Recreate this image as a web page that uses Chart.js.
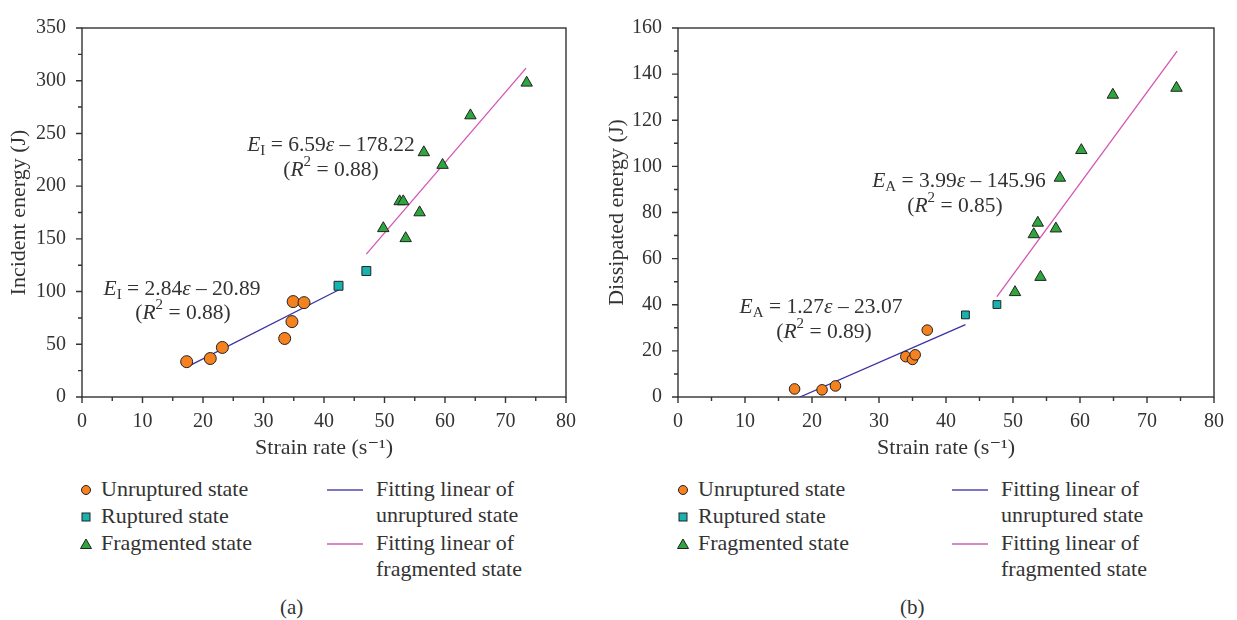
<!DOCTYPE html>
<html>
<head>
<meta charset="utf-8">
<script src="https://cdn.jsdelivr.net/npm/chart.js@4.4.0/dist/chart.umd.min.js"></script>
<style>
  body { margin: 0; background: #fff; width: 1237px; height: 620px; overflow: hidden; position: relative;
         font-family: "Liberation Serif", "DejaVu Serif", serif; color: #333; }
  .box { position: absolute; top: 0; height: 470px; }
  #boxA { left: 0; width: 600px; }
  #boxB { left: 600px; width: 637px; }
  .lg { position: absolute; font-size: 22px; line-height: 26px; white-space: nowrap; }
  .mk { position: absolute; }
  .ln { position: absolute; height: 2px; width: 36px; }
  .cap { position: absolute; font-size: 21px; top: 595px; }
</style>
</head>
<body>
<div class="box" id="boxA"><canvas id="chartA"></canvas></div>
<div class="box" id="boxB"><canvas id="chartB"></canvas></div>
<div id="legends"></div>
<div class="cap" style="left:280px">(a)</div>
<div class="cap" style="left:900px">(b)</div>
<script>
// ---- data ----
// (a) incident energy
const unrupturedRateA = [17.3, 21.2, 23.2, 33.5, 34.7, 34.9, 36.7];
const unrupturedEnergyA = [33.5, 36.5, 47, 55.5, 71.5, 90.5, 89.5];
const rupturedRateA = [42.4, 47.0];
const rupturedEnergyA = [105.5, 119.5];
const fragmentedRateA = [49.8, 52.5, 53.1, 53.5, 55.8, 56.5, 59.6, 64.2, 73.5];
const fragmentedEnergyA = [160, 185.5, 185.5, 150.5, 175, 232, 220, 267, 298];
const fitUnrupturedA = [{x: 17.3, y: 28.4}, {x: 42.4, y: 101.5}];
const fitFragmentedA = [{x: 47.0, y: 135.5}, {x: 73.4, y: 312}];

// (b) dissipated energy
const unrupturedRateB = [17.4, 21.5, 23.5, 34.0, 35.0, 35.4, 37.2];
const unrupturedEnergyB = [3.5, 3.1, 4.8, 17.5, 16.3, 18.3, 29.0];
const rupturedRateB = [42.9, 47.6];
const rupturedEnergyB = [35.6, 40.1];
const fragmentedRateB = [50.3, 53.1, 53.7, 54.1, 56.4, 57.0, 60.2, 64.9, 74.4];
const fragmentedEnergyB = [45.4, 70.5, 75.5, 52, 73, 95, 107, 131, 134];
const fitUnrupturedB = [{x: 18.2, y: 0}, {x: 42.9, y: 31.4}];
const fitFragmentedB = [{x: 47.6, y: 43.5}, {x: 74.5, y: 150}];

const xMax = 80;
const yMaxA = 350;
const yMaxB = 160;

const legendNames = ['Unruptured state', 'Ruptured state', 'Fragmented state'];
const fitNames = [['Fitting linear of', 'unruptured state'], ['Fitting linear of', 'fragmented state']];

const orange = '#f5821f', teal = '#17b3b0', green = '#2ea63e';
const blue = '#3b31a3', pink = '#d554b3';
const ink = '#333';
const serif = '"Liberation Serif", "DejaVu Serif", serif';

const pts = (xs, ys) => xs.map((x, i) => ({x, y: ys[i]}));

// frame + major/minor ticks, drawn from the chart's own scales
const frameTicks = {
    id: 'frameTicks',
    beforeDatasetsDraw(chart, args, opts) {
        const {ctx, chartArea: a, scales: {x, y}} = chart;
        ctx.save();
        ctx.strokeStyle = ink;
        ctx.lineWidth = 1.4;
        ctx.strokeRect(a.left, a.top, a.right - a.left, a.bottom - a.top);
        ctx.beginPath();
        for (let v = x.min; v <= x.max; v += opts.xMinor) {
            const px = x.getPixelForValue(v);
            const len = v % opts.xMajor === 0 ? 6 : 4;
            ctx.moveTo(px, a.bottom);
            ctx.lineTo(px, a.bottom + len);
        }
        for (let v = y.min; v <= y.max; v += opts.yMinor) {
            const py = y.getPixelForValue(v);
            const len = v % opts.yMajor === 0 ? 6 : 4;
            ctx.moveTo(a.left, py);
            ctx.lineTo(a.left - len, py);
        }
        ctx.stroke();
        ctx.restore();
    }
};

// equation labels with italic / sub / sup pieces
function drawRich(ctx, parts, cx, cy, size) {
    const fontOf = p => {
        const s = (p.sub || p.sup) ? Math.round(size * 0.68) : size;
        return (p.it ? 'italic ' : '') + s + 'px ' + serif;
    };
    let w = 0;
    parts.forEach(p => { ctx.font = fontOf(p); w += ctx.measureText(p.t).width; });
    let xx = cx - w / 2;
    ctx.textBaseline = 'middle';
    ctx.textAlign = 'left';
    parts.forEach(p => {
        ctx.font = fontOf(p);
        const dy = p.sub ? size * 0.3 : (p.sup ? -size * 0.35 : 0);
        ctx.fillText(p.t, xx, cy + dy);
        xx += ctx.measureText(p.t).width;
    });
}

const equations = {
    id: 'equations',
    afterDatasetsDraw(chart, args, opts) {
        const ctx = chart.ctx;
        ctx.save();
        ctx.fillStyle = ink;
        opts.items.forEach(it => drawRich(ctx, it.parts, it.x, it.y, 21.5));
        ctx.restore();
    }
};

function eq(sub, slope, icpt) {
    return [{t: 'E', it: true}, {t: sub, sub: true}, {t: ' = ' + slope}, {t: 'ε', it: true}, {t: ' – ' + icpt}];
}
function r2(v) {
    return [{t: '('}, {t: 'R', it: true}, {t: '2', sup: true}, {t: ' = ' + v + ')'}];
}

function makeChart(id, sets, cfg) {
    const scatter = (label, data, style, color, r) => ({
        label, data, pointStyle: style, backgroundColor: color, borderColor: '#222',
        borderWidth: 1, pointRadius: r, pointHoverRadius: r, order: 1
    });
    const fit = (label, data, color) => ({
        label, data, showLine: true, borderColor: color, borderWidth: 1.3,
        pointRadius: 0, order: 2
    });
    return new Chart(document.getElementById(id), {
        type: 'scatter',
        data: {
            datasets: [
                scatter(legendNames[0], sets.unruptured, 'circle', orange, cfg.rCircle),
                scatter(legendNames[1], sets.ruptured, 'rect', teal, cfg.rRect),
                scatter(legendNames[2], sets.fragmented, 'triangle', green, 6.6),
                fit(fitNames[0].join(' '), sets.fitU, blue),
                fit(fitNames[1].join(' '), sets.fitF, pink)
            ]
        },
        options: {
            responsive: true,
            maintainAspectRatio: false,
            animation: false,
            layout: {padding: cfg.padding},
            plugins: {
                legend: {display: false},
                tooltip: {enabled: false},
                frameTicks: {xMinor: 5, xMajor: 10, yMinor: cfg.yMinor, yMajor: cfg.yStep},
                equations: {items: cfg.equations}
            },
            scales: {
                x: {
                    type: 'linear', min: 0, max: xMax,
                    grid: {display: false, drawTicks: false},
                    border: {display: false},
                    ticks: {stepSize: 10, padding: 13, color: ink, font: {family: serif, size: 20}},
                    title: {display: true, text: 'Strain rate (s⁻¹)', color: ink, padding: 0,
                            font: {family: serif, size: 22}},
                    afterFit: s => { s.height = 64; }
                },
                y: {
                    type: 'linear', min: 0, max: cfg.yMax,
                    grid: {display: false, drawTicks: false},
                    border: {display: false},
                    ticks: {stepSize: cfg.yStep, padding: 16, color: ink, font: {family: serif, size: 20}},
                    title: {display: true, text: cfg.yTitle, color: ink, padding: 0,
                            font: {family: serif, size: 22}},
                    afterFit: s => { s.width = cfg.yWidth; }
                }
            }
        },
        plugins: [frameTicks, equations]
    });
}

makeChart('chartA', {
    unruptured: pts(unrupturedRateA, unrupturedEnergyA),
    ruptured: pts(rupturedRateA, rupturedEnergyA),
    fragmented: pts(fragmentedRateA, fragmentedEnergyA),
    fitU: fitUnrupturedA, fitF: fitFragmentedA
}, {
    yMax: yMaxA, yStep: 50, yMinor: 25, yTitle: 'Incident energy (J)',
    yWidth: 76, rCircle: 6, rRect: 6.3,
    padding: {left: 6, top: 20, right: 34, bottom: 9},
    equations: [
        {parts: eq('I', '6.59', '178.22'), x: 331, y: 145},
        {parts: r2('0.88'), x: 331, y: 170},
        {parts: eq('I', '2.84', '20.89'), x: 182, y: 289},
        {parts: r2('0.88'), x: 183, y: 313}
    ]
});

makeChart('chartB', {
    unruptured: pts(unrupturedRateB, unrupturedEnergyB),
    ruptured: pts(rupturedRateB, rupturedEnergyB),
    fragmented: pts(fragmentedRateB, fragmentedEnergyB),
    fitU: fitUnrupturedB, fitF: fitFragmentedB
}, {
    yMax: yMaxB, yStep: 20, yMinor: 10, yTitle: 'Dissipated energy (J)',
    yWidth: 74, rCircle: 5.3, rRect: 5.5,
    padding: {left: 4, top: 20, right: 20, bottom: 9},
    equations: [
        {parts: eq('A', '3.99', '145.96'), x: 359, y: 181},
        {parts: r2('0.85'), x: 355, y: 206},
        {parts: eq('A', '1.27', '23.07'), x: 221, y: 307},
        {parts: r2('0.89'), x: 224, y: 332}
    ]
});

// ---- legends below each panel ----
const markerSvg = [
    c => `<svg width="14" height="14"><circle cx="7" cy="7" r="4.5" fill="${c}" stroke="#222" stroke-width="1"/></svg>`,
    c => `<svg width="14" height="14"><rect x="3" y="3" width="8" height="8" fill="${c}" stroke="#222" stroke-width="1"/></svg>`,
    c => `<svg width="14" height="14"><polygon points="7,2 12.5,11.5 1.5,11.5" fill="${c}" stroke="#222" stroke-width="1"/></svg>`
];
function addLegend(mx, fx) {
    const root = document.getElementById('legends');
    const rows = [490, 517, 544];
    [orange, teal, green].forEach((c, i) => {
        root.insertAdjacentHTML('beforeend',
            `<div class="mk" style="left:${mx - 7}px;top:${rows[i] - 7}px">${markerSvg[i](c)}</div>` +
            `<div class="lg" style="left:${mx + 15}px;top:${rows[i] - 14}px">${legendNames[i]}</div>`);
    });
    [['#7c75c3', 490], ['#d98ac5', 544]].forEach(([c, y], i) => {
        root.insertAdjacentHTML('beforeend',
            `<div class="ln" style="left:${fx}px;top:${y - 1}px;background:${c}"></div>` +
            `<div class="lg" style="left:${fx + 49}px;top:${y - 14}px">${fitNames[i][0]}<br>${fitNames[i][1]}</div>`);
    });
}
addLegend(86, 327);
addLegend(683, 952);
</script>
</body>
</html>
